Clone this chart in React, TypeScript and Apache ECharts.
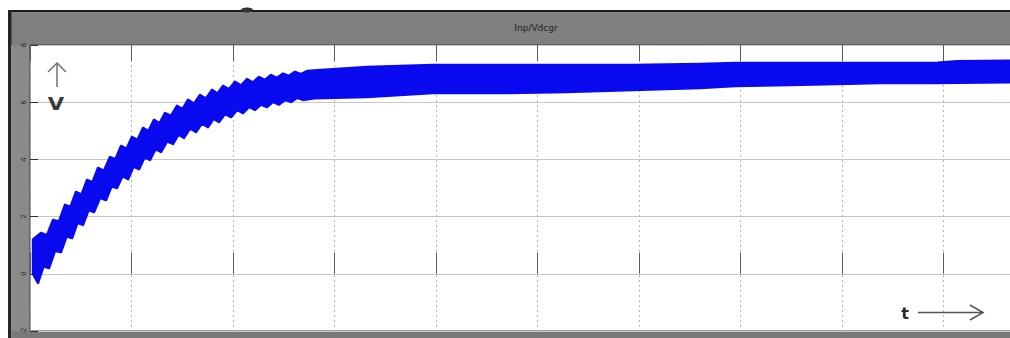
import React, { useEffect, useRef } from "react";
import * as echarts from "echarts";

// Scope trace: DC-link voltage build-up, drawn as a band between
// the upper and lower extremes of the ripple.
const TITLE = "Inp/Vdcgr";
const Y_TICKS = { min: -2, max: 8, interval: 2 };
const X_TICKS = { min: 0, max: 10, interval: 1 };

const upperStart: number[] = [0.03, 1.2];
const lowerStart: number[] = [0.03, 0.0];

// Ripple crests and the dips between them during the rise
const upperPeaks: number[][] = [
  [0.108, 1.43], [0.227, 1.88], [0.345, 2.41], [0.453, 2.86], [0.562, 3.28],
  [0.670, 3.70], [0.788, 4.08], [0.897, 4.47], [1.005, 4.78], [1.113, 5.10],
  [1.222, 5.38], [1.330, 5.62], [1.448, 5.87], [1.557, 6.08], [1.675, 6.25],
  [1.793, 6.43], [1.901, 6.57], [2.020, 6.71], [2.138, 6.81], [2.256, 6.88],
  [2.374, 6.95], [2.493, 7.00], [2.611, 7.06], [2.729, 7.09],
];
const upperNotches: number[][] = [
  [0.167, 1.34], [0.286, 1.83], [0.399, 2.34], [0.507, 2.77], [0.616, 3.20],
  [0.729, 3.60], [0.842, 4.01], [0.951, 4.37], [1.059, 4.68], [1.167, 4.99],
  [1.276, 5.26], [1.389, 5.52], [1.502, 5.76], [1.616, 5.95], [1.734, 6.13],
  [1.847, 6.30], [1.960, 6.45], [2.079, 6.58], [2.197, 6.69], [2.315, 6.78],
  [2.434, 6.85], [2.552, 6.92], [2.670, 6.98],
];
// Ripple troughs and the bumps between them during the rise
const lowerTips: number[][] = [
  [0.079, -0.32], [0.187, 0.20], [0.305, 0.76], [0.414, 1.25], [0.522, 1.71],
  [0.631, 2.16], [0.749, 2.58], [0.857, 3.00], [0.966, 3.31], [1.074, 3.66],
  [1.182, 3.98], [1.291, 4.26], [1.409, 4.54], [1.517, 4.75], [1.635, 4.96],
  [1.754, 5.13], [1.862, 5.31], [1.980, 5.48], [2.099, 5.62], [2.217, 5.73],
  [2.335, 5.83], [2.453, 5.92], [2.571, 6.01], [2.690, 6.08],
];
const lowerBumps: number[][] = [
  [0.133, 0.26], [0.246, 0.80], [0.360, 1.31], [0.468, 1.78], [0.577, 2.23],
  [0.690, 2.66], [0.803, 3.06], [0.912, 3.42], [1.020, 3.75], [1.128, 4.07],
  [1.237, 4.36], [1.350, 4.63], [1.463, 4.87], [1.576, 5.08], [1.695, 5.26],
  [1.808, 5.42], [1.921, 5.59], [2.040, 5.73], [2.158, 5.84], [2.276, 5.92],
  [2.394, 6.01], [2.512, 6.08], [2.630, 6.15],
];
// Settled envelope
const upperTail: number[][] = [
  [2.83, 7.12], [3.32, 7.23], [3.97, 7.30], [4.63, 7.30], [5.29, 7.30],
  [5.94, 7.30], [6.60, 7.34], [6.95, 7.37], [7.49, 7.37], [7.95, 7.37],
  [8.37, 7.37], [8.94, 7.38], [9.13, 7.43], [9.66, 7.45], [10, 7.46],
];
const lowerTail: number[][] = [
  [2.80, 6.14], [3.32, 6.18], [3.97, 6.32], [4.63, 6.32], [5.29, 6.36],
  [5.94, 6.43], [6.60, 6.50], [6.95, 6.57], [7.49, 6.60], [7.95, 6.64],
  [8.37, 6.67], [8.94, 6.67], [9.13, 6.68], [9.66, 6.70], [10, 6.70],
];

const BLUE = "#0a0af0";

const byX = (a: number[], b: number[]) => a[0] - b[0];
const upperEdge = [upperStart, ...[...upperPeaks, ...upperNotches].sort(byX), ...upperTail];
const lowerEdge = [lowerStart, ...[...lowerTips, ...lowerBumps].sort(byX), ...lowerTail];

export default function App() {
  const ref = useRef<HTMLDivElement>(null);

  useEffect(() => {
    if (!ref.current) return;
    const chart = echarts.init(ref.current, undefined, { renderer: "svg" });

    const frame = (x: number, y: number, w: number, h: number, fill: string) => ({
      type: "rect",
      z: -10,
      silent: true,
      shape: { x, y, width: w, height: h },
      style: { fill },
    });

    const label = (text: string, x: number, y: number, size: number, fill: string, extra: any = {}) => ({
      type: "text",
      z: 10,
      x,
      y,
      ...extra,
      style: {
        text,
        fontSize: size,
        fontWeight: "bold",
        fontFamily: "DejaVu Sans",
        fill,
        textAlign: "center",
        textVerticalAlign: "middle",
        align: "center",
        verticalAlign: "middle",
      },
    });

    chart.setOption({
      animation: false,
      backgroundColor: "#ffffff",
      grid: {
        left: 30,
        top: 45,
        width: 1015,
        height: 286,
        show: true,
        backgroundColor: "#ffffff",
        borderColor: "#3c3c3c",
        borderWidth: 1,
      },
      xAxis: [
        {
          type: "value",
          position: "bottom",
          ...X_TICKS,
          axisLine: { show: false },
          axisTick: { inside: true, length: 21, lineStyle: { color: "#5a5a5a", width: 1 } },
          axisLabel: { show: false },
          splitLine: { show: true, lineStyle: { color: "#b4b4b4", type: [2, 3], width: 1 } },
        },
        {
          type: "value",
          position: "top",
          ...X_TICKS,
          axisLine: { show: false },
          axisTick: { inside: true, length: 16, lineStyle: { color: "#5a5a5a", width: 1 } },
          axisLabel: { show: false },
          splitLine: { show: false },
        },
      ],
      yAxis: {
        type: "value",
        ...Y_TICKS,
        axisLine: { show: false },
        axisTick: { inside: true, length: 8, lineStyle: { color: "#333333", width: 1 } },
        axisLabel: {
          rotate: 90,
          fontSize: 7,
          color: "#2a2a2a",
          margin: 3,
          fontFamily: "DejaVu Sans",
        },
        splitLine: { show: true, lineStyle: { color: "#c6c6c6", width: 1 } },
      },
      graphic: [
        frame(8, 10, 1052, 2.5, "#1a1a1a"),
        frame(11, 12.5, 1049, 32.5, "#808080"),
        frame(8, 10, 3.5, 328, "#262626"),
        frame(11.5, 45, 18.5, 293, "#8a8a8a"),
        frame(11.5, 331, 1049, 7, "#7a7a7a"),
        {
          type: "ellipse",
          z: 5,
          silent: true,
          shape: { cx: 247, cy: 10, rx: 6, ry: 2.5 },
          style: { fill: "#333333" },
        },
        {
          type: "text",
          z: 10,
          x: 536,
          y: 28,
          style: {
            text: TITLE,
            fontSize: 9,
            fontFamily: "DejaVu Sans",
            fill: "#1e1e1e",
            textAlign: "center",
            textVerticalAlign: "middle",
            align: "center",
            verticalAlign: "middle",
          },
        },
        {
          type: "line",
          z: 10,
          shape: { x1: 57, y1: 63, x2: 57, y2: 87 },
          style: { stroke: "#707070", lineWidth: 1.5 },
        },
        {
          type: "polyline",
          z: 10,
          shape: { points: [[48, 72], [57, 63], [66, 72]] },
          style: { stroke: "#707070", lineWidth: 1.5, fill: null },
        },
        label("V", 56, 104, 17, "#3a3a3a", { scaleX: 1.25 }),
        label("t", 905, 313, 16, "#2a2a2a"),
        {
          type: "line",
          z: 10,
          shape: { x1: 918, y1: 312.5, x2: 983, y2: 312.5 },
          style: { stroke: "#555555", lineWidth: 1.5 },
        },
        {
          type: "polyline",
          z: 10,
          shape: { points: [[970, 305], [983, 312.5], [970, 320]] },
          style: { stroke: "#555555", lineWidth: 1.5, fill: null },
        },
      ],
      series: [
        {
          type: "custom",
          xAxisIndex: 0,
          yAxisIndex: 0,
          clip: true,
          silent: true,
          data: [[0, 0]],
          encode: { x: 0, y: 1 },
          renderItem: (_params: any, api: any) => {
            const pts = [...upperEdge, ...lowerEdge.slice().reverse()].map((p) => api.coord(p));
            return {
              type: "polygon",
              shape: { points: pts },
              style: { fill: BLUE, stroke: BLUE, lineWidth: 2.5, lineJoin: "round" },
            };
          },
        },
      ],
    });

    return () => chart.dispose();
  }, []);

  return (
    <div
      style={{
        position: "fixed",
        left: 0,
        top: 0,
        width: 1010,
        height: 338,
        overflow: "hidden",
        background: "#ffffff",
      }}
    >
      <div ref={ref} style={{ width: 1060, height: 338 }} />
    </div>
  );
}
